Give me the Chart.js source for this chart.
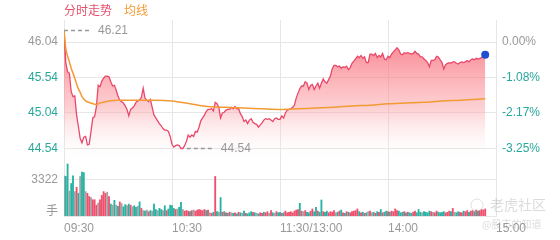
<!DOCTYPE html>
<html>
<head>
<meta charset="utf-8">
<script src="https://cdn.jsdelivr.net/npm/chart.js@4.4.0/dist/chart.umd.min.js"></script>
<style>
  html, body { margin: 0; padding: 0; background: #fff; }
  #wrap { position: relative; width: 560px; height: 240px; }
</style>
</head>
<body>
<div id="wrap"><canvas id="myChart" width="560" height="240"></canvas></div>
<script>
// preço minuto a minuto (09:30 ...)
const priceData = [
  46.21, 45.75, 45.62, 45.60, 45.34, 45.27, 45.28, 45.01, 44.85, 44.68,
  44.62, 44.70, 44.71, 44.59, 44.60, 44.78, 44.97, 44.99, 45.13, 45.43,
  45.41, 45.49, 45.53, 45.56, 45.56, 45.55, 45.48, 45.42, 45.43, 45.36,
  45.28, 45.22, 45.20, 45.18, 45.14, 45.09, 45.00, 45.09, 45.11, 45.14,
  45.19, 45.21, 45.22, 45.26, 45.39, 45.25, 45.22, 45.20, 45.23, 45.12,
  45.01, 44.97, 44.93, 44.89, 44.86, 44.82, 44.80, 44.80, 44.78, 44.71,
  44.60, 44.56, 44.58, 44.59, 44.58, 44.54, 44.54, 44.58, 44.64, 44.73,
  44.70, 44.73, 44.71, 44.78, 44.77, 44.84, 44.93, 44.97, 45.01, 45.06,
  45.09, 45.09, 45.10, 45.07, 45.19, 45.17, 45.12, 44.97, 45.04, 45.05,
  45.08, 45.09, 45.09, 45.12, 45.10, 45.13, 45.10, 45.10, 45.03, 44.99,
  44.92, 44.94, 44.89, 44.94, 44.96, 44.91, 44.89, 44.88, 44.84, 44.87,
  44.90, 44.94, 44.96, 44.95, 44.96, 44.94, 44.92, 44.96, 44.97, 44.95,
  44.95, 45.00, 44.97, 45.04, 45.08, 45.09, 45.10, 45.12, 45.15, 45.25,
  45.32, 45.38, 45.42, 45.42, 45.48, 45.46, 45.37, 45.43, 45.44, 45.37,
  45.42, 45.46, 45.39, 45.46, 45.52, 45.48, 45.46, 45.51, 45.56, 45.66,
  45.71, 45.71, 45.69, 45.70, 45.67, 45.69, 45.68, 45.70, 45.65, 45.68,
  45.74, 45.77, 45.80, 45.84, 45.82, 45.85, 45.81, 45.83, 45.75, 45.75,
  45.87, 45.87, 45.85, 45.88, 45.82, 45.85, 45.83, 45.88, 45.80, 45.79,
  45.84, 45.82, 45.87, 45.90, 45.93, 45.96, 45.93, 45.87, 45.86, 45.89,
  45.88, 45.89, 45.88, 45.87, 45.88, 45.91, 45.88, 45.87, 45.83, 45.83,
  45.80, 45.78, 45.75, 45.69, 45.78, 45.78, 45.79, 45.84, 45.83, 45.79,
  45.75, 45.66, 45.72, 45.74, 45.75, 45.74, 45.76, 45.76, 45.74, 45.73,
  45.75, 45.76, 45.75, 45.76, 45.78, 45.76, 45.79, 45.80, 45.79, 45.81,
  45.80, 45.81, 45.82, 45.83, 45.86
];

// linha média (minuto, valor)
const avgMinutes = [0, 1, 2, 3, 4, 5, 6, 7, 8, 9, 10, 12, 15, 18, 20, 25, 30, 40, 50, 60, 70, 80, 90, 100, 110, 120, 130, 140, 150, 160, 170, 180, 190, 200, 210, 220, 234];
const avgData = [46.21, 45.95, 45.84, 45.76, 45.67, 45.60, 45.53, 45.45, 45.38, 45.33, 45.27, 45.21, 45.18, 45.16, 45.18, 45.21, 45.22, 45.22, 45.22, 45.21, 45.17, 45.13, 45.12, 45.11, 45.10, 45.09, 45.10, 45.11, 45.12, 45.14, 45.15, 45.17, 45.18, 45.19, 45.21, 45.22, 45.24];

// volume (手) e direção: 1 alta, -1 baixa, 0 neutro
const volumeData = [
  3700, 3650, 4800, 2300, 3000, 3700, 2250, 2650, 2100, 3650, 4050, 4000, 2250, 2100, 1800, 1700, 1500, 1500, 1000, 1200, 1500, 1900, 2250, 2100, 2200, 1800, 1100, 1000, 1450, 1000,
  900, 1300, 1150, 850, 1050, 950, 1100, 1000, 850, 950,
  800, 900, 1300, 700, 500, 450, 550, 400, 500, 450, 1100, 600, 500, 700, 600, 500, 950, 500, 650, 1000,
  950, 700, 600, 650, 800, 1250, 600, 450, 500, 450, 400, 500, 550, 450, 550, 600, 550, 500, 600, 500, 550, 300, 250, 350, 3650, 400, 350, 1700, 350, 400,
  300, 250, 350, 300, 250, 300, 200, 350, 300, 250, 450, 250, 200, 300, 400, 350, 300, 250, 200, 300, 250, 350, 300, 400, 250, 500, 300, 250, 400, 300,
  350, 250, 300, 450, 300, 350, 400, 300, 450, 550, 600, 1170, 450, 400, 500, 350, 300, 450, 650, 400, 800, 450, 350, 1480, 400, 350, 450, 300, 400, 350,
  500, 300, 350, 450, 550, 300, 250, 400, 350, 300, 400, 450, 500, 650, 400, 300, 350, 250, 300, 400, 450, 300, 350, 250, 400, 350, 600, 300, 350, 450,
  400, 350, 450, 400, 650, 500, 450, 300, 350, 400, 300, 350, 300, 250, 350, 450, 300, 600, 350, 300, 400, 350, 300, 450, 400, 350, 300, 450, 350, 300,
  350, 400, 300, 350, 450, 400, 700, 350, 300, 400, 350, 300, 450, 400, 500, 350, 450, 500, 400, 550, 450, 500, 600, 550, 650
];
const volumeDir = [
  0, -1, -1, 0, -1, -1, 0, 1, -1, 0, -1, -1, 0, 1, 1, 0, 1, 1, 1, 0, 1, 1, 1, 1, 0, 1, -1, 0, -1, 0,
  -1, 1, 0, -1, -1, 0, -1, 1, 0, -1,
  -1, 0, -1, 1, 0, -1, 0, 1, -1, 0, -1, -1, 0, -1, -1, 0, -1, 1, -1, -1,
  -1, -1, 1, 0, -1, -1, 0, 1, 1, 1, -1, 1, 0, 1, 1, 1, 1, 1, 1, -1, 1, 0, 1, -1, 1, -1, 0, -1, 1, -1,
  1, -1, 1, 0, -1, 1, -1, 1, -1, 0, -1, 1, -1, -1, -1, 1, -1, 0, -1, 1, 1, -1, 1, 1, 0, 1, -1, 0, 1, -1,
  -1, 1, -1, 1, 1, 1, 1, 1, 1, 1, 1, -1, 1, 0, 1, -1, -1, 1, 1, -1, -1, 1, -1, -1, 1, -1, -1, 1, 1, 1,
  1, 0, -1, 1, -1, 1, -1, 1, -1, 1, 1, 1, 1, 1, -1, 1, -1, 1, -1, 0, 1, 0, -1, 1, -1, 1, -1, 1, -1, -1,
  1, -1, 1, 1, 1, 1, -1, -1, -1, 1, -1, 1, -1, -1, 1, 1, -1, -1, -1, 0, -1, -1, -1, -1, 1, 0, 1, 1, -1, -1,
  -1, -1, 1, 1, 1, -1, 1, 0, -1, -1, 1, 1, -1, 1, 1, -1, 1, 1, -1, 1, -1, 1, 1, 1, 1
];

const xTicks = [0, 60, 120, 180, 240];
const xTickLabels = ["09:30", "10:30", "11:30/13:00", "14:00", "15:00"];
const priceTicks = [46.04, 45.54, 45.04, 44.54];
const pctLabels = ["0.00%", "-1.08%", "-2.17%", "-3.25%"];
const volTick = 3322;

const PRICE_MIN = 43.589, PRICE_MAX = 46.35, VOL_MAX = 18086;

const gridColor = "#e6e6e6";
const grey = "#999999";
const teal = "#2aa79b";
const upColor = "#f0506e";
const downColor = "#26b3a3";
const flatColor = "#a3a3a3";

Chart.defaults.font.family = '"Liberation Sans", Arial, "Noto Sans CJK SC", sans-serif';
Chart.defaults.font.size = 12;

// o rótulo 3322 fica no eixo esquerdo, na altura equivalente do volume
const leftTicks = priceTicks.concat([PRICE_MIN + volTick / VOL_MAX * (PRICE_MAX - PRICE_MIN)]);
const leftLabels = priceTicks.map(v => v.toFixed(2)).concat([String(volTick)]);

const hiIdx = priceData.indexOf(Math.max(...priceData));
const loIdx = priceData.lastIndexOf(Math.min(...priceData));

const markers = {
  id: "markers",
  afterDatasetsDraw(chart) {
    const { ctx, chartArea, scales } = chart;
    const x = scales.x, y = scales.y;
    ctx.save();
    ctx.textBaseline = "middle";

    // título / legenda
    ctx.font = '12px "Noto Sans CJK SC"';
    ctx.textAlign = "left";
    ctx.fillStyle = "#e4506c";
    ctx.fillText("分时走势", 64, 10);
    ctx.fillStyle = "#f29b34";
    ctx.fillText("均线", 124, 10);

    // máxima e mínima
    function mark(idx, offset) {
      const px = x.getPixelForValue(idx) + offset;
      const py = Math.round(y.getPixelForValue(priceData[idx])) + 0.5;
      ctx.strokeStyle = "#999";
      ctx.lineWidth = 1.5;
      ctx.setLineDash([4, 3]);
      ctx.beginPath();
      ctx.moveTo(px, py);
      ctx.lineTo(px + 28, py);
      ctx.stroke();
      ctx.setLineDash([]);
      ctx.font = '12px "Liberation Sans"';
      ctx.fillStyle = "#999";
      ctx.fillText(priceData[idx].toFixed(2), px + 34, py);
    }
    mark(hiIdx, 0);
    mark(loIdx, 4);

    // unidade do volume
    ctx.font = '12px "Noto Sans CJK SC"';
    ctx.textAlign = "right";
    ctx.fillStyle = grey;
    ctx.fillText("手", 58, chartArea.bottom - 6);

    // marca d'água
    ctx.globalAlpha = 0.35;
    ctx.strokeStyle = "#aaa";
    ctx.lineWidth = 1;
    ctx.beginPath();
    ctx.arc(477, 205, 6, 0, Math.PI * 2);
    ctx.stroke();
    ctx.textAlign = "left";
    ctx.fillStyle = "#999";
    ctx.font = '14px "Noto Sans CJK SC"';
    ctx.fillText("老虎社区", 490, 205);
    ctx.font = '10px "Noto Sans CJK SC"';
    ctx.fillText("@股市的知道", 482, 224);
    ctx.restore();
  }
};

const ctx = document.getElementById("myChart").getContext("2d");
new Chart(ctx, {
  type: "line",
  data: {
    datasets: [
      {
        label: "分时走势",
        data: priceData.map((v, i) => ({ x: i, y: v })),
        yAxisID: "y",
        borderColor: "#e9486b",
        borderWidth: 1.3,
        tension: 0,
        fill: "start",
        backgroundColor: (c) => {
          const area = c.chart.chartArea;
          if (!area) return "rgba(248,110,120,0.4)";
          const ys = c.chart.scales.y;
          const g = c.chart.ctx.createLinearGradient(0, ys.getPixelForValue(46.04), 0, ys.getPixelForValue(44.35));
          g.addColorStop(0, "rgba(248,96,110,0.75)");
          g.addColorStop(0.55, "rgba(250,150,155,0.45)");
          g.addColorStop(1, "rgba(255,255,255,0)");
          return g;
        },
        pointRadius: (c) => (c.dataIndex === priceData.length - 1 ? 4 : 0),
        pointBackgroundColor: "#1f4fd1",
        pointBorderWidth: 0,
        order: 1
      },
      {
        label: "均线",
        data: avgMinutes.map((m, i) => ({ x: m, y: avgData[i] })),
        yAxisID: "y",
        borderColor: "#f29b34",
        borderWidth: 1.5,
        cubicInterpolationMode: "monotone",
        pointRadius: 0,
        fill: false,
        order: 0
      },
      {
        type: "bar",
        label: "成交量",
        data: volumeData.map((v, i) => ({ x: i, y: v })),
        yAxisID: "yVol",
        backgroundColor: volumeDir.map(d => (d > 0 ? upColor : d < 0 ? downColor : flatColor)),
        barThickness: 1.2,
        grouped: false,
        order: 2
      }
    ]
  },
  options: {
    responsive: false,
    animation: false,
    events: [],
    layout: { padding: { top: 20, left: 0, right: 0, bottom: 0 } },
    plugins: { legend: { display: false }, tooltip: { enabled: false }, title: { display: false } },
    scales: {
      x: {
        type: "linear",
        min: 0,
        max: 240,
        offset: false,
        afterBuildTicks: (s) => { s.ticks = xTicks.map(v => ({ value: v })); },
        afterFit: (s) => { s.height = 24; },
        ticks: {
          align: "start",
          padding: 5,
          color: grey,
          maxRotation: 0,
          autoSkip: false,
          callback: (v, i) => xTickLabels[i]
        },
        grid: { color: gridColor, drawTicks: false, offset: false },
        border: { color: gridColor }
      },
      y: {
        position: "left",
        min: PRICE_MIN,
        max: PRICE_MAX,
        afterBuildTicks: (s) => { s.ticks = leftTicks.map(v => ({ value: v })); },
        afterFit: (s) => { s.width = 64; },
        ticks: {
          padding: 6,
          color: (c) => (c.index === 0 || c.index === 4 ? grey : teal),
          callback: (v, i) => leftLabels[i]
        },
        grid: { color: gridColor, drawTicks: false },
        border: { color: gridColor }
      },
      yPct: {
        position: "right",
        min: PRICE_MIN,
        max: PRICE_MAX,
        afterBuildTicks: (s) => { s.ticks = priceTicks.map(v => ({ value: v })); },
        afterFit: (s) => { s.width = 64; },
        ticks: {
          padding: 6,
          color: (c) => (c.index === 0 ? grey : teal),
          callback: (v, i) => pctLabels[i]
        },
        grid: { display: false, drawTicks: false },
        border: { display: false }
      },
      yVol: {
        display: false,
        min: 0,
        max: VOL_MAX
      }
    }
  },
  plugins: [markers]
});
</script>
</body>
</html>
